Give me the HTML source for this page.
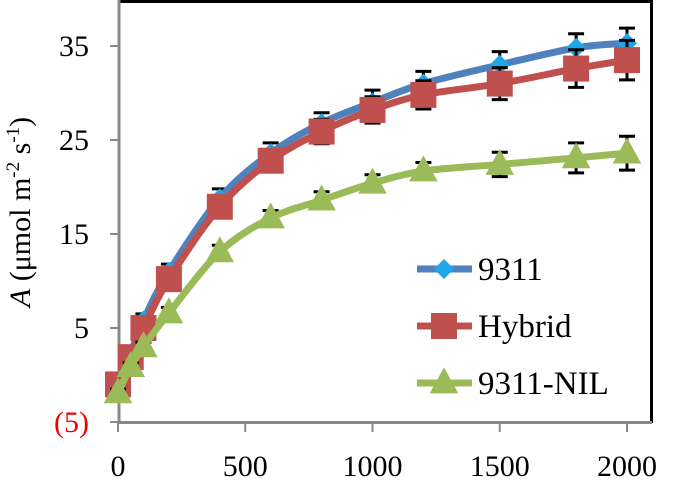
<!DOCTYPE html>
<html><head><meta charset="utf-8">
<style>
html,body{margin:0;padding:0;background:#fff;}
svg{display:block;font-family:"Liberation Serif",serif;}
</style></head>
<body>
<svg id="chart" width="673" height="489" viewBox="0 0 673 489">
<rect x="0" y="0" width="673" height="489" fill="#fff"/>
<g id="frame">
<line x1="118" y1="1.5" x2="652" y2="1.5" stroke="#000" stroke-width="3"/>
<line x1="651.5" y1="0" x2="651.5" y2="423" stroke="#000" stroke-width="3"/>
</g>
<g id="axes"></g>
<g id="series"></g>
<g id="legend"></g>
<text transform="translate(30,212) rotate(-90)" text-anchor="middle" font-size="30" fill="#000"><tspan font-style="italic">A</tspan> (μmol m<tspan dy="-11" font-size="19">-2</tspan><tspan dy="11"> s</tspan><tspan dy="-11" font-size="19">-1</tspan><tspan dy="11">)</tspan></text>
</svg>
<script>
const xValues=[0,50,100,200,400,600,800,1000,1200,1500,1800,2000];
const s9311=[-1,2.3,5.8,11,18.8,23.6,26.8,29,31,33,34.8,35.3];
const sHybrid=[-1,1.9,5,10.2,17.9,22.8,25.9,28.2,29.8,31,32.6,33.5];
const sNIL=[-1.9,0.9,3,6.6,13.1,16.7,18.6,20.4,21.7,22.4,23.1,23.6];
const err9311=[0.5,0.6,0.7,0.8,1,1.1,1.1,1.3,1.3,1.4,1.5,1.6];
const errHybrid=[0.5,0.6,0.7,0.8,1,1.1,1.3,1.4,1.5,1.7,2,2.1];
const errNIL=[0.4,0.4,0.5,0.6,0.7,0.8,0.9,0.9,0.9,1.3,1.6,1.8];
const yTicks=[-5,5,15,25,35];
const yTickLabels=["(5)","5","15","25","35"];
const xTicks=[0,500,1000,1500,2000];
const seriesNames=["9311","Hybrid","9311-NIL"];

const NS="http://www.w3.org/2000/svg";
const X=v=>118+v*0.2545;
const Y=v=>422-(v+5)*9.4;
function mk(tag,attrs,parent){const e=document.createElementNS(NS,tag);for(const k in attrs)e.setAttribute(k,attrs[k]);parent.appendChild(e);return e;}
const axes=document.getElementById('axes');
let l=mk('line',{x1:119,y1:0,x2:119,y2:423,stroke:'#888',"stroke-width":3},axes);


l=mk('line',{x1:118,y1:422.5,x2:652,y2:422.5,stroke:'#888',"stroke-width":3},axes);


yTicks.forEach((t,i)=>{
  const tk=mk('line',{x1:110,y1:Y(t),x2:119,y2:Y(t),stroke:'#888',"stroke-width":2},axes);
  
  
  const tx=mk('text',{x:89,y:Y(t)+10,"text-anchor":"end","font-size":30,fill:t<0?'#e00':'#000'},axes);
  tx.textContent=yTickLabels[i];
  
  
});
xTicks.forEach(t=>{
  const tk=mk('line',{x1:X(t),y1:422,x2:X(t),y2:432,stroke:'#888',"stroke-width":2},axes);
  
  
  const tx=mk('text',{x:X(t),y:476,"text-anchor":"middle","font-size":30,fill:'#000'},axes);
  tx.textContent=String(t);
  
  
});
function smooth(pts){
  let d=`M${pts[0][0]},${pts[0][1]}`;
  for(let i=0;i<pts.length-1;i++){
    const p0=pts[Math.max(0,i-1)],p1=pts[i],p2=pts[i+1],p3=pts[Math.min(pts.length-1,i+2)];
    const c1=[p1[0]+(p2[0]-p0[0])/6,p1[1]+(p2[1]-p0[1])/6];
    const c2=[p2[0]-(p3[0]-p1[0])/6,p2[1]-(p3[1]-p1[1])/6];
    d+=` C${c1[0]},${c1[1]} ${c2[0]},${c2[1]} ${p2[0]},${p2[1]}`;
  }
  return d;
}
function marker(type,x,y,fill,parent,s){
  if(type==='diamond') return mk('polygon',{points:`${x},${y-s} ${x+s},${y} ${x},${y+s} ${x-s},${y}`,fill},parent);
  if(type==='square') return mk('rect',{x:x-s,y:y-s,width:2*s,height:2*s,fill},parent);
  return mk('polygon',{points:`${x},${y-s*1.2} ${x+s*1.1},${y+s*0.8} ${x-s*1.1},${y+s*0.8}`,fill},parent);
}
const sg=document.getElementById('series');
const defs=[
 {vals:s9311,err:err9311,line:'#4F81BD',fill:'#1EA6E6',type:'diamond',s:10,name:'series-9311'},
 {vals:sHybrid,err:errHybrid,line:'#C0504D',fill:'#C0504D',type:'square',s:13,name:'series-hybrid'},
 {vals:sNIL,err:errNIL,line:'#9BBB59',fill:'#9BBB59',type:'triangle',s:13,name:'series-9311-nil'}
];
defs.forEach(d=>{
  const g=mk('g',{},sg);
  
  
  xValues.forEach((xv,i)=>{
    const x=X(xv),yt=Y(d.vals[i]+d.err[i]),yb=Y(d.vals[i]-d.err[i]);
    const e=mk('path',{d:`M${x},${yt}V${yb}M${x-8},${yt}H${x+8}M${x-8},${yb}H${x+8}`,stroke:'#000',"stroke-width":3,fill:'none'},g);
    
    
  });
  const p=mk('path',{d:smooth(xValues.map((xv,i)=>[X(xv),Y(d.vals[i])])),stroke:d.line,"stroke-width":7,fill:'none'},g);
  
  
  xValues.forEach((xv,i)=>{
    const m=marker(d.type,X(xv),Y(d.vals[i]),d.fill,g,d.s);
    
    
  });
});
const lg=document.getElementById('legend');
defs.forEach((d,i)=>{
  const y=269+i*57;
  const g=mk('g',{},lg);
  
  
  mk('line',{x1:417,y1:y,x2:472,y2:y,stroke:d.line,"stroke-width":7},g);
  marker(d.type,444,y,d.fill,g,d.s);
  const t=mk('text',{x:478,y:y+11,"font-size":33,fill:'#000'},g);
  t.textContent=seriesNames[i];
});
</script>
</body></html>
